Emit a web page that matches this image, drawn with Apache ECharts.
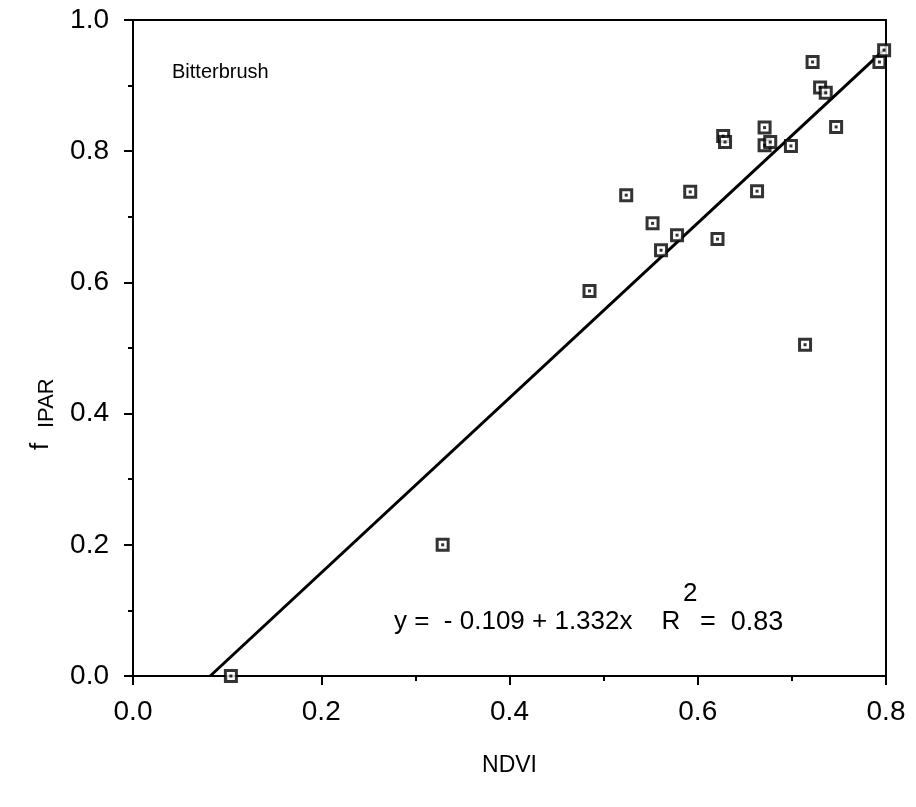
<!DOCTYPE html>
<html>
<head>
	<meta charset="utf-8">
	<title>Bitterbrush fIPAR vs NDVI</title>
	<style>
		html, body { margin: 0; padding: 0; background: #fff; }
		#chart { width: 916px; height: 807px; }
	</style>
	<script src="https://cdn.jsdelivr.net/npm/echarts@6/dist/echarts.min.js"></script>
</head>
<body>
<div id="chart"></div>
<script>
// values
var ndvi = [0.104, 0.329, 0.485, 0.524, 0.552, 0.561, 0.578, 0.592, 0.621, 0.663,
	0.627, 0.629, 0.671, 0.671, 0.677, 0.699, 0.747, 0.722, 0.730, 0.736,
	0.793, 0.798, 0.714];
var fipar = [0.000, 0.200, 0.587, 0.733, 0.690, 0.649, 0.672, 0.738, 0.666, 0.739,
	0.823, 0.814, 0.836, 0.809, 0.814, 0.808, 0.837, 0.936, 0.897, 0.889,
	0.936, 0.954, 0.505];
// fitted line end points (y = -0.109 + 1.332x)
var fitX = [0.082, 0.8];
var fitY = [0.0, 0.957];
var xTicks = [0, 0.2, 0.4, 0.6, 0.8];
var yTicks = [0, 0.2, 0.4, 0.6, 0.8, 1.0];

var font = 'Liberation Sans, Arial, Helvetica, sans-serif';

var points = ndvi.map(function (x, i) { return [x, fipar[i]]; });
var fitLine = fitX.map(function (x, i) { return [x, fitY[i]]; });

var chart = echarts.init(document.getElementById('chart'));

chart.setOption({
	animation: false,
	backgroundColor: '#fff',
	grid: {
		left: 133, right: 30, top: 20, bottom: 131,
		show: true, borderColor: '#000', borderWidth: 2, backgroundColor: 'transparent'
	},
	xAxis: {
		type: 'value', min: xTicks[0], max: xTicks[xTicks.length - 1], interval: 0.2,
		axisLine: { lineStyle: { color: '#000', width: 2 } },
		axisTick: { length: 9, lineStyle: { color: '#000', width: 2 } },
		minorTick: { show: true, splitNumber: 2, length: 5, lineStyle: { color: '#000', width: 2 } },
		splitLine: { show: false },
		axisLabel: {
			margin: 22, color: '#000', fontSize: 28, fontFamily: font,
			formatter: function (v) { return v.toFixed(1); }
		},
		name: 'NDVI', nameLocation: 'middle', nameGap: 78,
		nameTextStyle: { color: '#000', fontSize: 23, fontFamily: font }
	},
	yAxis: {
		type: 'value', min: yTicks[0], max: yTicks[yTicks.length - 1], interval: 0.2,
		axisLine: { lineStyle: { color: '#000', width: 2 } },
		axisTick: { length: 9, lineStyle: { color: '#000', width: 2 } },
		minorTick: { show: true, splitNumber: 2, length: 5, lineStyle: { color: '#000', width: 2 } },
		splitLine: { show: false },
		axisLabel: {
			margin: 24, color: '#000', fontSize: 28, fontFamily: font,
			formatter: function (v) { return v.toFixed(1); }
		}
	},
	graphic: [
		{ type: 'text', left: 172, top: 62, style: { text: 'Bitterbrush', fill: '#000', font: '20px ' + font } },
		{ type: 'text', left: 394, top: 609, style: { text: 'y =  - 0.109 + 1.332x    R', fill: '#000', font: '26px ' + font } },
		{ type: 'text', left: 683, top: 581, style: { text: '2', fill: '#000', font: '26px ' + font } },
		{ type: 'text', left: 700, top: 609, style: { text: '=  0.83', fill: '#000', font: '27px ' + font } },
		{ type: 'text', x: 28, y: 450, rotation: Math.PI / 2, style: { text: 'f', fill: '#000', font: '26px ' + font } },
		{ type: 'text', x: 36, y: 428, rotation: Math.PI / 2, style: { text: 'IPAR', fill: '#000', font: '22px ' + font } }
	],
	series: [
		{
			type: 'line', data: fitLine, symbol: 'none',
			lineStyle: { color: '#000', width: 3 }, z: 2
		},
		{
			type: 'scatter', data: points, symbol: 'rect', symbolSize: 11,
			itemStyle: { color: '#fff', borderColor: '#000', borderWidth: 3 }, z: 3
		},
		{
			type: 'scatter', data: points, symbol: 'rect', symbolSize: 3,
			itemStyle: { color: '#000' }, z: 4
		}
	]
});
</script>
</body>
</html>
